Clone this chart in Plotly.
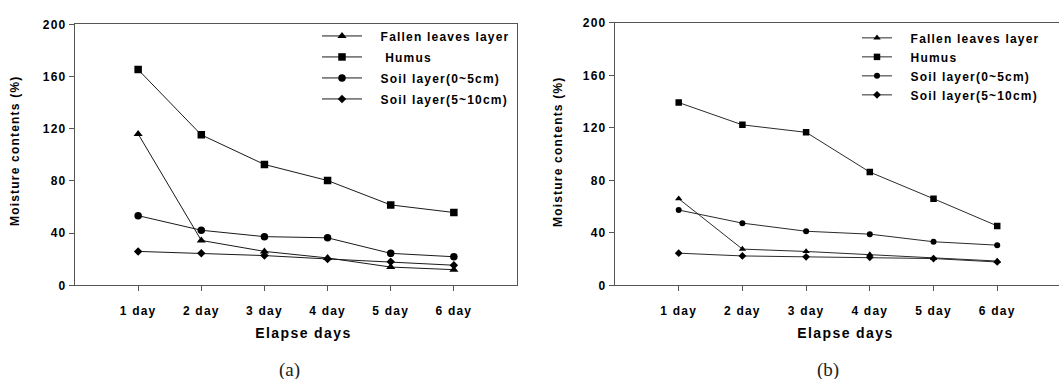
import plotly.graph_objects as go

# ---------------- data ----------------
days = [1, 2, 3, 4, 5, 6]
day_labels = ["1 day", "2 day", "3 day", "4 day", "5 day", "6 day"]
y_ticks = [0, 40, 80, 120, 160, 200]

series_names = ["Fallen leaves layer", "Humus", "Soil layer(0~5cm)", "Soil layer(5~10cm)"]

# panel (a)
a_fallen = [116.0, 34.4, 26.0, 21.0, 14.0, 12.0]
a_humus = [165.3, 115.3, 92.6, 80.3, 61.6, 55.8]
a_soil05 = [53.4, 42.2, 37.3, 36.4, 24.5, 21.9]
a_soil510 = [26.0, 24.6, 22.8, 20.2, 18.0, 15.4]

# panel (b)
b_fallen = [66.0, 27.6, 25.8, 23.4, 20.6, 18.5]
b_humus = [139.3, 122.3, 116.6, 86.3, 66.0, 45.3]
b_soil05 = [57.4, 47.4, 41.2, 39.0, 33.2, 30.6]
b_soil510 = [24.5, 22.4, 21.7, 21.3, 20.4, 17.8]

x_title = "Elapse days"
y_title = "Moisture contents (%)"
panel_labels = ["(a)", "(b)"]

symbols = ["triangle-up", "square", "circle", "diamond"]

W, H = 1059, 379
FONT = "Liberation Sans, Arial, sans-serif"
NB = "\u00a0"

fig = go.Figure()

a_data = [a_fallen, a_humus, a_soil05, a_soil510]
b_data = [b_fallen, b_humus, b_soil05, b_soil510]
a_sizes = [8, 7.5, 7.5, 6.5]
b_sizes = [6.5, 6.5, 6, 6]

for i, (name, vals) in enumerate(zip(series_names, a_data)):
    label = NB * 3 + (NB if name == "Humus" else "") + name
    fig.add_trace(go.Scatter(
        x=days, y=vals, name=label, mode="lines+markers",
        line=dict(color="#1a1a1a", width=1),
        marker=dict(symbol=symbols[i], size=a_sizes[i], color="black"),
        xaxis="x", yaxis="y", legend="legend", legendgroup="a%d" % i,
    ))

for i, (name, vals) in enumerate(zip(series_names, b_data)):
    label = NB * 3 + name
    fig.add_trace(go.Scatter(
        x=days, y=vals, name=label, mode="lines+markers",
        line=dict(color="#2a2a2a", width=1),
        marker=dict(symbol=symbols[i], size=b_sizes[i], color="black"),
        xaxis="x2", yaxis="y2", legend="legend2", legendgroup="b%d" % i,
    ))

axis_line = "#555555"
tickfont = dict(family=FONT, size=12, color="black", weight="bold")


def xaxis(domain, rng, anchor):
    return dict(
        domain=domain, range=rng, anchor=anchor,
        tickmode="array", tickvals=days, ticktext=day_labels,
        ticks="outside", ticklen=5, tickcolor=axis_line, tickwidth=1,
        showline=True, linecolor=axis_line, linewidth=1.3, mirror=True,
        showgrid=False, zeroline=False, tickfont=tickfont,
        ticklabelstandoff=9,
    )


def yaxis(domain, anchor, mirror):
    return dict(
        domain=domain, range=[0, 200], anchor=anchor,
        tickmode="array", tickvals=y_ticks,
        ticks="outside", ticklen=5, tickcolor=axis_line, tickwidth=1,
        showline=True, linecolor=axis_line, linewidth=1.3, mirror=mirror,
        showgrid=False, zeroline=False, tickfont=tickfont,
    )


def ann(text, x, y, size, family=FONT, weight="bold", angle=0, color="black"):
    return dict(text=text, x=x / W, y=1 - y / H, xref="paper", yref="paper",
                showarrow=False, xanchor="center", yanchor="middle",
                textangle=angle,
                font=dict(family=family, size=size, color=color, weight=weight))


legend_font = dict(family=FONT, size=12, color="black", weight="bold")

fig.update_layout(
    width=W, height=H,
    margin=dict(l=0, r=0, t=0, b=0),
    paper_bgcolor="white", plot_bgcolor="white",
    showlegend=True,
    xaxis=xaxis([75 / W, 517 / W], [0, 7], "y"),
    yaxis=yaxis([1 - 289 / H, 1 - 18 / H], "x", True),
    xaxis2=xaxis([615 / W, 1.0], [0, 6.97], "y2"),
    yaxis2=yaxis([1 - 289 / H, 1 - 16.5 / H], "x2", False),
    legend=dict(
        x=317 / W, y=1 - 15 / H, xanchor="left", yanchor="top",
        bgcolor="rgba(0,0,0,0)", borderwidth=0, font=legend_font,
        itemwidth=40, tracegroupgap=2, traceorder="grouped",
    ),
    legend2=dict(
        x=857 / W, y=1 - 17 / H, xanchor="left", yanchor="top",
        bgcolor="rgba(0,0,0,0)", borderwidth=0, font=legend_font,
        itemwidth=30, tracegroupgap=0, traceorder="grouped",
    ),
    annotations=[
        ann(x_title, 303, 338, 14),
        ann(x_title, 845, 338, 14),
        ann(y_title, 15, 150, 12, angle=-90),
        ann(y_title, 558, 151, 12, angle=-90),
        ann(panel_labels[0], 289, 377, 19, family="Liberation Serif, serif",
            weight="normal", color="#222"),
        ann(panel_labels[1], 828, 377, 19, family="Liberation Serif, serif",
            weight="normal", color="#222"),
    ],
)

post = """
var gd = document.getElementById('{plot_id}');
function ls() {
  gd.querySelectorAll('text').forEach(function(t) {
    var ff = (t.style.fontFamily || '') + (t.getAttribute('style') || '');
    if (ff.indexOf('Serif') >= 0) return;
    t.style.letterSpacing = '0.1em';
  });
  gd.querySelectorAll('g[class^="legend"] [clip-path], g[class^="legend"][clip-path]').forEach(function(e) {
    e.removeAttribute('clip-path');
  });
}
ls();
if (gd.on) gd.on('plotly_afterplot', ls);
"""

fig.write_html("out.html", post_script=post)
